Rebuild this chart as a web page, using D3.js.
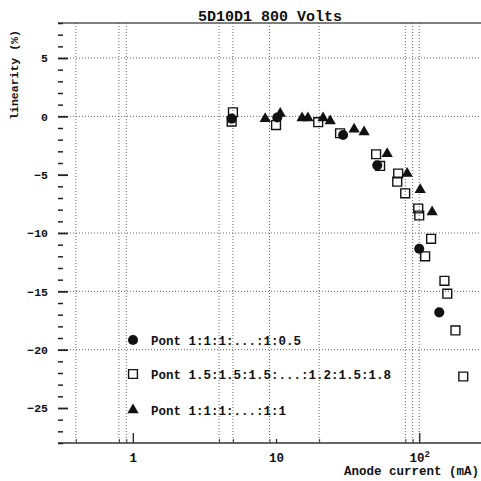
<!DOCTYPE html>
<html>
<head>
<meta charset="utf-8">
<script src="https://cdn.jsdelivr.net/npm/d3@7"></script>
<style>
  html, body { margin: 0; padding: 0; background: #fff; }
  svg text { font-family: "Liberation Mono", "DejaVu Sans Mono", monospace; font-weight: bold; fill: #111; }
</style>
</head>
<body>
<svg id="chart" width="481" height="481"></svg>
<script>
// Linearity of the 5D10D1 tube at 800 V, for three divider ratios
const seriesNames = ["Pont 1:1:1:...:1:0.5", "Pont 1.5:1.5:1.5:...:1.2:1.5:1.8", "Pont 1:1:1:...:1:1"];
const seriesShapes = ["circle", "square", "triangle"];

// anode current (mA) and linearity (%) per divider
const circleCurrent = [4.9, 10.2, 29.4, 50.9, 100, 138];
const circleLinearity = [-0.2, -0.1, -1.6, -4.2, -11.35, -16.8];

const squareCurrent = [5.0, 4.9, 10.0, 19.7, 28.0, 50.0, 53.3, 71.3, 70.2, 79.8, 98.4, 100, 121, 110, 150, 157, 179, 203];
const squareLinearity = [0.35, -0.45, -0.75, -0.5, -1.45, -3.25, -4.25, -4.9, -5.6, -6.6, -7.9, -8.5, -10.5, -12.0, -14.1, -15.2, -18.35, -22.3];

const triangleCurrent = [8.4, 10.7, 15.2, 16.7, 21.3, 23.9, 35.1, 41.2, 59.7, 82.4, 101.6, 123];
const triangleLinearity = [-0.2, 0.25, -0.15, -0.15, -0.15, -0.4, -1.1, -1.35, -3.2, -4.9, -6.3, -8.2];

// axes
const xExtent = [0.31, 270];
const yExtent = [-28, 8];
const xMajorTicks = [1, 10, 100];
const xMinorTicks = [0.4, 0.8, 0.9, 4, 5, 9, 20, 80, 90];
const yMajorTicks = [5, 0, -5, -10, -15, -20, -25];
const yGridValues = [5, 0, -10, -15, -20];
const xGridValues = [0.4, 0.8, 0.9, 4, 5, 9, 20, 80, 90, 100];

const svg = d3.select("#chart");
const plotLeft = 58, plotRight = 481, plotTop = 23, plotBottom = 443;

const x = d3.scaleLog().domain(xExtent).range([60, 481]);
const y = d3.scaleLinear().domain(yExtent).range([plotBottom, plotTop]);

// dotted grid
const grid = svg.append("g").attr("stroke", "#666").attr("stroke-width", 1)
  .attr("stroke-dasharray", "1,2").attr("fill", "none");
grid.selectAll("line.gy").data(yGridValues).join("line").attr("class", "gy")
  .attr("x1", plotLeft).attr("x2", plotRight).attr("y1", d => y(d)).attr("y2", d => y(d));
grid.selectAll("line.gx").data(xGridValues).join("line").attr("class", "gx")
  .attr("x1", d => x(d)).attr("x2", d => x(d)).attr("y1", plotTop).attr("y2", plotBottom);

// frame top line
svg.append("line").attr("x1", plotLeft).attr("x2", plotRight).attr("y1", plotTop).attr("y2", plotTop)
  .attr("stroke", "#555").attr("stroke-width", 1.5);

// x axis
const xAxisMinor = d3.axisBottom(x).tickValues(xMinorTicks).tickSize(-4).tickSizeOuter(0).tickFormat("");
const gxMinor = svg.append("g").attr("transform", `translate(0,${plotBottom})`).call(xAxisMinor);
gxMinor.select(".domain").remove();

const xAxis = d3.axisBottom(x).tickValues(xMajorTicks).tickSize(-10).tickSizeOuter(0).tickPadding(10)
  .tickFormat(d => d === 100 ? "10" : String(d));
const gx = svg.append("g").attr("transform", `translate(0,${plotBottom})`).call(xAxis);
gx.select(".domain").remove();
gx.selectAll(".tick").filter(d => d === 10).select("line").attr("y2", -4);
gx.selectAll("text").attr("font-size", 12.5).attr("fill", "#111");
gx.selectAll(".tick").filter(d => d === 100).select("text")
  .append("tspan").attr("dy", "-0.55em").attr("font-size", 9).text("2");
svg.append("line").attr("x1", plotLeft).attr("x2", plotRight).attr("y1", plotBottom).attr("y2", plotBottom)
  .attr("stroke", "#333").attr("stroke-width", 1.5);
gx.selectAll("line").attr("stroke", "#222").attr("stroke-width", 1.3);
gxMinor.selectAll("line").attr("stroke", "#444");

// y axis
const yMinorTicks = d3.range(yExtent[0], yExtent[1] + 1).filter(v => v % 5 !== 0);
const yAxisMinor = d3.axisLeft(y).tickValues(yMinorTicks).tickSize(-5).tickSizeOuter(0).tickFormat("");
const gyMinor = svg.append("g").attr("transform", `translate(${plotLeft},0)`).call(yAxisMinor);
gyMinor.select(".domain").remove();
gyMinor.selectAll("line").attr("stroke", "#222").attr("stroke-width", 1.5);

const yAxis = d3.axisLeft(y).tickValues(yMajorTicks).tickSize(-10).tickSizeOuter(0).tickPadding(10);
const gy = svg.append("g").attr("transform", `translate(${plotLeft},0)`).call(yAxis);
gy.select(".domain").remove();
gy.selectAll("line").attr("stroke", "#222").attr("stroke-width", 1.8);
gy.selectAll("text").attr("font-size", 11.5).attr("fill", "#111");

// titles
svg.append("text").attr("x", 270).attr("y", 21).attr("text-anchor", "middle")
  .attr("font-size", 15).text("5D10D1 800 Volts");
svg.append("text").attr("transform", "translate(18,75) rotate(-90)").attr("text-anchor", "middle")
  .attr("font-size", 11.5).text("linearity (%)");
svg.append("text").attr("x", 479).attr("y", 475).attr("text-anchor", "end")
  .attr("font-size", 12.5).text("Anode current (mA)");

// markers
const symbolOf = {
  circle: d3.symbol().type(d3.symbolCircle).size(80),
  square: d3.symbol().type(d3.symbolSquare).size(78),
  triangle: d3.symbol().type(d3.symbolTriangle).size(55)
};
function styleMarker(sel, shape) {
  if (shape === "square") sel.attr("fill", "none").attr("stroke", "#111").attr("stroke-width", 1.4);
  else sel.attr("fill", "#111").attr("stroke", "none");
}
const series = [
  { shape: "circle", xs: circleCurrent, ys: circleLinearity },
  { shape: "square", xs: squareCurrent, ys: squareLinearity },
  { shape: "triangle", xs: triangleCurrent, ys: triangleLinearity }
];
series.forEach(s => {
  const pts = s.xs.map((v, i) => ({ x: v, y: s.ys[i] }));
  svg.append("g").selectAll("path").data(pts).join("path")
    .attr("d", symbolOf[s.shape]())
    .attr("transform", d => `translate(${x(d.x)},${y(d.y)})`)
    .call(styleMarker, s.shape);
});

// legend
const legendY = [340, 374, 410];
const legend = svg.append("g");
seriesNames.forEach((name, i) => {
  legend.append("path").attr("d", symbolOf[seriesShapes[i]]())
    .attr("transform", `translate(133,${legendY[i]})`)
    .call(styleMarker, seriesShapes[i]);
  legend.append("text").attr("x", 151).attr("y", legendY[i] + 4.5)
    .attr("font-size", 12.5).text(name);
});
</script>
</body>
</html>
